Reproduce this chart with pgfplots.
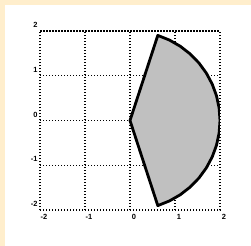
\documentclass[border=0pt]{standalone}
\usepackage{pgfplots}
\pgfplotsset{compat=1.18}
\usepackage{fontspec}
\setmainfont{Liberation Sans}
\definecolor{cream}{RGB}{255,238,204}
\definecolor{shapegray}{RGB}{192,192,192}
\begin{document}
\begin{tikzpicture}
\fill[cream] (-40bp,-36bp) rectangle (211bp,210bp);
\fill[white] (-35bp,-36bp) rectangle (211bp,205bp);
\path[use as bounding box] (-40bp,-36bp) rectangle (211bp,210bp);
\begin{axis}[
  at={(0,0)}, anchor=south west,
  width=180bp, height=179bp, scale only axis,
  xmin=-2, xmax=2, ymin=-2, ymax=2,
  xtick={-2,-1,0,1,2}, ytick={-2,-1,0,1,2},
  xticklabels={-2,-1,0,1,2}, yticklabels={-2,-1,0,1,2},
  major tick length=0pt,
  grid=major,
  major grid style={black, line width=1.1bp, dash pattern=on 1.1bp off 1.9bp},
  axis line style={black, line width=1.1bp, dash pattern=on 1.1bp off 1.9bp},
  tick label style={font=\fontsize{7.5}{8}\selectfont\bfseries},
  xticklabel style={yshift=-1bp, xshift=4bp},
  yticklabel style={yshift=6bp, xshift=1bp},
]
\addplot[fill=shapegray, draw=black, line width=2.8bp, line join=round] coordinates {
(0,0) (0.6180,1.9021) (0.8767,1.7976) (1.1184,1.6581) (1.3383,1.4863)
(1.5321,1.2856) (1.6961,1.0598) (1.8271,0.8135) (1.9225,0.5513) (1.9805,0.2783)
(2,0) (1.9805,-0.2783) (1.9225,-0.5513) (1.8271,-0.8135) (1.6961,-1.0598)
(1.5321,-1.2856) (1.3383,-1.4863) (1.1184,-1.6581) (0.8767,-1.7976) (0.6180,-1.9021)
} -- cycle;
\end{axis}
\end{tikzpicture}
\end{document}
